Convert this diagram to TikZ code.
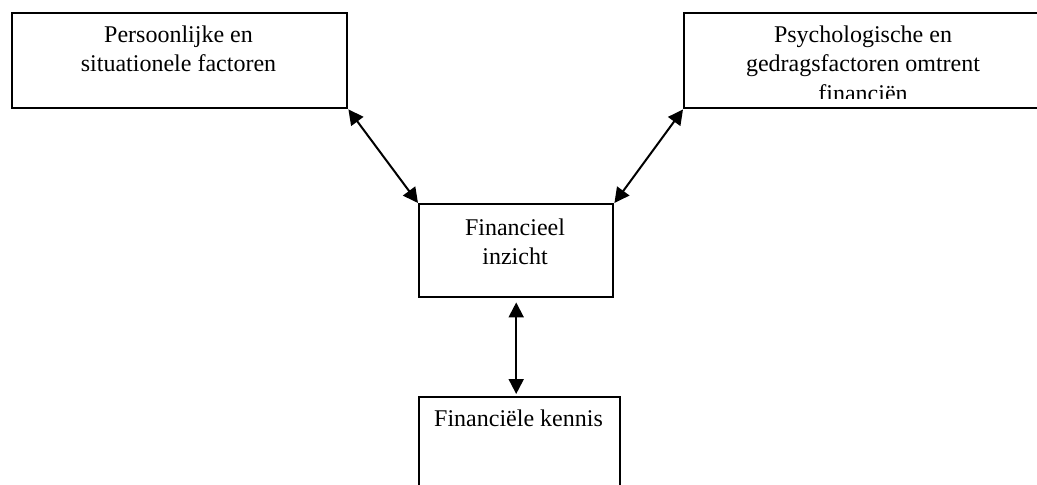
\documentclass[tikz,border=0pt]{standalone}
\usepackage{fontspec}
\setmainfont{Liberation Serif}
\usetikzlibrary{arrows.meta}
\begin{document}
\begin{tikzpicture}[x=0.5pt,y=-0.5pt,
  box/.style={draw=black,line width=1.2pt,inner sep=0pt,anchor=north west},
  txt/.style={font=\fontsize{12}{14.5}\selectfont,inner sep=0pt,anchor=base},
  link/.style={line width=1pt,{Triangle[length=7.5pt,width=7.5pt]}-{Triangle[length=7.5pt,width=7.5pt]}}]
\useasboundingbox (0,0) rectangle (1037,484);
\clip (0,0) rectangle (1037,484);
% boxes
\node[box,minimum width=167.5pt,minimum height=47.5pt] (A) at (11,12) {};
\node[box,minimum width=180pt,minimum height=47.5pt] (B) at (683,12) {};
\node[box,minimum width=97pt,minimum height=46.5pt] (C) at (418,203) {};
\node[box,minimum width=100.5pt,minimum height=60pt] (D) at (418,396) {};
% texts
\node[txt] (a1) at (178.5,42) {Persoonlijke en};
\node[txt] (a2) at (178.5,71.5) {situationele factoren};
\node[txt] (b1) at (863,42.5) {Psychologische en};
\node[txt] (b2) at (863,71.5) {gedragsfactoren omtrent};
\begin{scope}
\clip (683,12) rectangle (1043,98);
\node[txt] (b3) at (863,101) {financiën};
\end{scope}
\node[txt] (c1) at (515,235) {Financieel};
\node[txt] (c2) at (515,264) {inzicht};
\node[txt] (d1) at (518.5,426) {Financiële kennis};
% connectors
\draw[link] (A.south east) -- (C.north west);
\draw[link] (B.south west) -- (C.north east);
\draw[link,shorten <=2pt,shorten >=1pt] (C.south) -- (C.south |- D.north);
\end{tikzpicture}
\end{document}
